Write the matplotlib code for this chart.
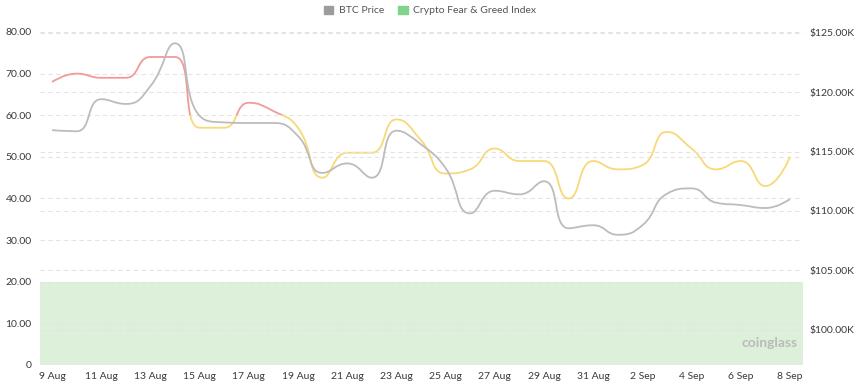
import numpy as np
import matplotlib
matplotlib.use("Agg")
import matplotlib.pyplot as plt
from matplotlib.path import Path
from matplotlib.patches import PathPatch, Rectangle, Patch

plt.rcParams['font.family'] = ['Lato', 'DejaVu Sans']

# data
dates = ['9 Aug', '10 Aug', '11 Aug', '12 Aug', '13 Aug', '14 Aug', '15 Aug', '16 Aug',
         '17 Aug', '18 Aug', '19 Aug', '20 Aug', '21 Aug', '22 Aug', '23 Aug', '24 Aug',
         '25 Aug', '26 Aug', '27 Aug', '28 Aug', '29 Aug', '30 Aug', '31 Aug', '1 Sep',
         '2 Sep', '3 Sep', '4 Sep', '5 Sep', '6 Sep', '7 Sep', '8 Sep']
fear_greed = [68, 70, 69, 69, 74, 74, 57, 57, 63, 61, 57, 45, 51, 51, 59, 54,
              46, 47, 52, 49, 49, 40, 49, 47, 48, 56, 52, 47, 49, 43, 50]
btc_price = [116.8, 116.7, 119.4, 119.0, 120.5, 124.1, 118.0, 117.45, 117.4, 117.4,
             116.3, 113.2, 114.0, 112.8, 116.75, 115.6, 113.6, 109.8, 111.7, 111.4,
             112.5, 108.55, 108.8, 108.0, 108.8, 111.45, 111.9, 110.7, 110.5, 110.25, 111.0]
btc_price = [v * 1000 for v in btc_price]

GRAY = '#bcbcbc'
RED = '#f29a9a'
YELLOW = '#f7d978'
GREEN_BG = '#ddf0da'
TXT = '#3a3a3a'


def echarts_smooth(ax, xs, ys, smooth=0.5):
    # smooth bezier like echarts' line series, computed in pixel space
    pts = ax.transData.transform(np.column_stack([xs, ys]))
    n = len(pts)
    verts = [pts[0]]
    codes = [Path.MOVETO]
    cp0 = pts[0].copy()
    for i in range(n - 1):
        X, Y = pts[i + 1]
        if i + 2 < n:
            px, py = pts[i]
            nx, ny = pts[i + 2]
            vx, vy = nx - px, ny - py
            len_prev = np.hypot(X - px, Y - py)
            len_next = np.hypot(nx - X, ny - Y)
            ratio = len_next / (len_next + len_prev)
            ncx = X + vx * smooth * ratio
            ncy = Y + vy * smooth * ratio
            ncx = max(min(ncx, max(nx, X)), min(nx, X))
            ncy = max(min(ncy, max(ny, Y)), min(ny, Y))
            vx, vy = ncx - X, ncy - Y
            c1x = X - vx * len_prev / len_next
            c1y = Y - vy * len_prev / len_next
            c1x = max(min(c1x, max(px, X)), min(px, X))
            c1y = max(min(c1y, max(py, Y)), min(py, Y))
            vx, vy = X - c1x, Y - c1y
            ncx = X + vx * len_next / len_prev
            ncy = Y + vy * len_next / len_prev
            cp1 = np.array([c1x, c1y])
            next_cp0 = np.array([ncx, ncy])
        else:
            cp1 = pts[i + 1].copy()
            next_cp0 = pts[i + 1].copy()
        verts += [cp0, cp1, pts[i + 1]]
        codes += [Path.CURVE4] * 3
        cp0 = next_cp0
    verts = ax.transData.inverted().transform(np.array(verts))
    return Path(verts, codes)


fig = plt.figure(figsize=(8.6, 3.84), dpi=100)
ax = fig.add_axes([40 / 860, 1 - 365 / 384, 763 / 860, 333 / 384])
ax2 = ax.twinx()

x = np.arange(len(dates))
ax.set_xlim(-0.49, len(dates) - 1 + 0.53)
ax.set_ylim(0, 80)
ax2.set_ylim(97050, 125050)

# extreme fear band
ax.axhspan(0, 20, color=GREEN_BG, zorder=0, lw=0)

# grids
ax.set_yticks(np.arange(0, 81, 10))
ax.set_yticklabels(['0'] + ['%.2f' % v for v in range(10, 81, 10)])
ax2.set_yticks(np.arange(100000, 125001, 5000))
ax2.set_yticklabels(['$%.2fK' % (v / 1000) for v in range(100000, 125001, 5000)])
for a in (ax, ax2):
    a.grid(axis='y', color='#e4e4e4', ls=(0, (4, 3)), lw=0.8, zorder=1)
    for s in a.spines.values():
        s.set_visible(False)
    a.tick_params(length=0, labelsize=7.5, labelcolor=TXT)
ax.tick_params(axis='y', pad=6)
ax2.tick_params(axis='y', pad=5)
ax.set_xticks(x[::2])
ax.set_xticklabels(dates[::2])
ax.tick_params(axis='x', pad=5)

# BTC price line
btc_path = echarts_smooth(ax2, x, btc_price)
ax2.add_patch(PathPatch(btc_path, fill=False, edgecolor=GRAY, lw=1.3, zorder=3))

# fear & greed line coloured by level
fg_path = echarts_smooth(ax, x, fear_greed)
for lo, hi, col in [(60, 100, RED), (-10, 60, YELLOW)]:
    pp = PathPatch(fg_path, fill=False, edgecolor=col, lw=1.3, zorder=3)
    ax.add_patch(pp)
    clip = Rectangle((-5, lo), 50, hi - lo, transform=ax.transData)
    pp.set_clip_path(clip)

# legend
handles = [Patch(color='#9c9c9c', label='BTC Price'),
           Patch(color='#7fd48c', label='Crypto Fear & Greed Index')]
fig.legend(handles=handles, loc='upper center', bbox_to_anchor=(0.5, 1.01), ncol=2,
           frameon=False, fontsize=7.5, handlelength=0.9, handleheight=0.9,
           handletextpad=0.5, columnspacing=1.4, labelcolor='#555555')

# watermark
fig.text(0.862, 0.107, 'coinglass', fontsize=10, fontweight='bold', color='#b0b0b0',
         va='center', ha='left', alpha=0.8)

fig.savefig('out.png', dpi=100, facecolor='white')
